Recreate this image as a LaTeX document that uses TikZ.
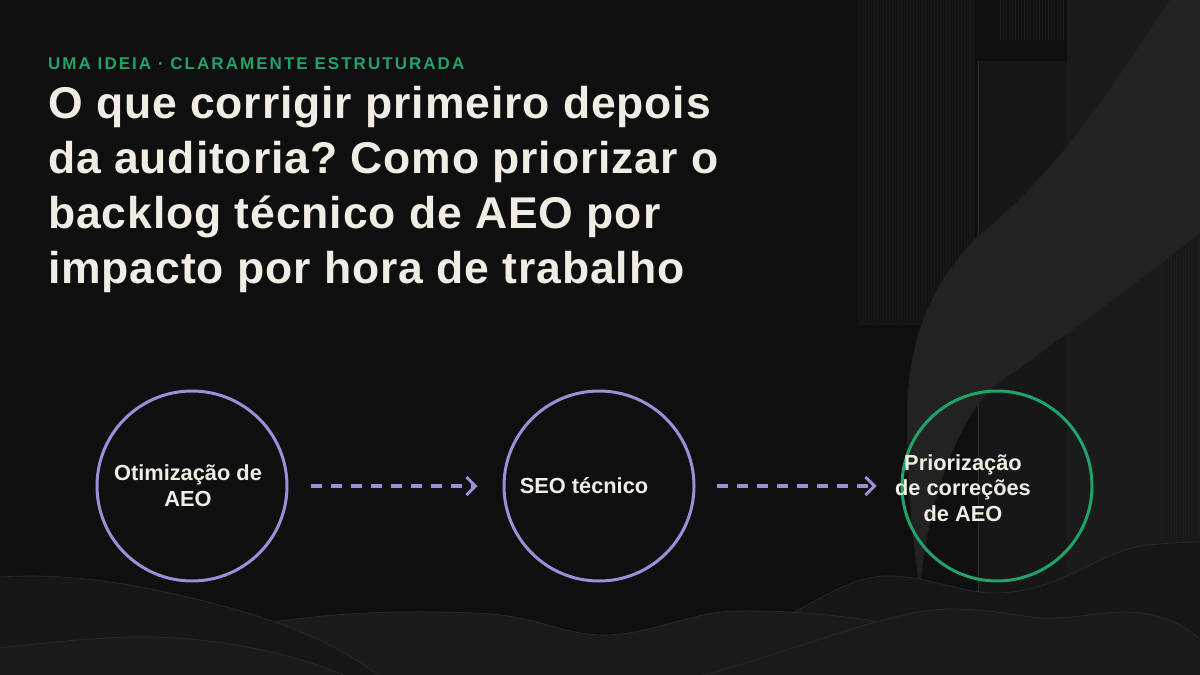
\documentclass[tikz,border=0pt]{standalone}
\usepackage{fontspec}
\setmainfont{Liberation Sans}
\newfontfamily\subfont[LetterSpace=12]{Liberation Sans}
\newfontfamily\titlefont[LetterSpace=2]{Liberation Sans}
\frenchspacing
\usetikzlibrary{arrows.meta}
\definecolor{bg}{HTML}{0F0F0F}
\definecolor{txt}{HTML}{F2EDE4}
\definecolor{lav}{HTML}{A08CD8}
\definecolor{grn}{HTML}{1FA36A}
\definecolor{arr}{HTML}{A08CD8}
\definecolor{gA}{HTML}{131313}
\definecolor{gB}{HTML}{171717}
\definecolor{gC}{HTML}{1B1B1B}
\definecolor{gD}{HTML}{222222}
\definecolor{gL}{HTML}{2A2A2A}
\tikzset{
  ring/.style={circle, draw=#1, line width=3pt, minimum size=190pt, inner sep=0pt},
  label text/.style={text=txt, font=\bfseries\fontsize{21.8}{25.7}\selectfont, align=center, inner sep=0pt},
  flow/.style={draw=arr, line width=3.2pt, dash pattern=on 11pt off 9pt, -{Straight Barb[length=9pt,width=18pt,line width=3pt]}},
  ridge/.style={draw=gL, line width=0.7pt},
}
\def\wA{(0,577) .. controls (80,572) and (150,588) .. (200,600) .. controls (280,620) and (330,640) .. (380,676)}
\def\wB{(240,628) .. controls (320,612) and (400,610) .. (474,613) .. controls (540,615) and (560,635) .. (604,635) .. controls (650,635) and (690,612) .. (735,611) .. controls (790,610) and (840,615) .. (900,625)}
\def\wC{(760,630) .. controls (820,600) and (850,576) .. (888,576) .. controls (930,576) and (960,593) .. (995,593) .. controls (1060,593) and (1100,550) .. (1148,545) .. controls (1170,543) and (1190,542) .. (1201,542)}
\def\wD{(700,676) .. controls (800,650) and (890,609) .. (949,609) .. controls (1000,609) and (1020,618) .. (1048,618) .. controls (1080,618) and (1100,612) .. (1125,612) .. controls (1160,612) and (1185,625) .. (1201,640)}
\def\wE{(0,648) .. controls (50,642) and (110,636) .. (153,637) .. controls (220,638) and (300,655) .. (345,676)}
\begin{document}
\begin{tikzpicture}[x=1pt,y=-1pt]
\useasboundingbox (0,0) rectangle (1200,675);
\fill[bg] (0,0) rectangle (1200,675);
% right decorative area
\fill[gA] (857,0) rectangle (975,325);
\foreach \i in {0,...,38} { \draw[gB, line width=0.5pt] (859+\i*3,0) -- (859+\i*3,325); }
\fill[gB] (977,61) rectangle (1067,675);
\draw[gL, line width=0.6pt] (978,61) -- (978,675);
\foreach \i in {0,...,21} { \draw[gC, line width=0.5pt] (1000+\i*3,0) -- (1000+\i*3,40); }
\fill[gC] (1067,0) rectangle (1200,675);
\foreach \i in {0,...,10} { \draw[gB, line width=0.5pt] (1166+\i*3,233) -- (1166+\i*3,675); }
\fill[gD] (1170,0) .. controls (1110,90) and (1060,170) .. (977,237)
  .. controls (930,285) and (907,340) .. (907,420) .. controls (907,480) and (912,540) .. (920,590)
  .. controls (925,520) and (950,430) .. (993,387)
  .. controls (1060,340) and (1140,280) .. (1200,233) -- (1200,0) -- cycle;
% bottom hills (back to front)
\fill[gB] \wC -- (1201,676) -- (760,676) -- cycle; \draw[ridge] \wC;
\fill[gC] \wB -- (900,676) -- (240,676) -- cycle; \draw[ridge] \wB;
\fill[gB] \wA -- (0,676) -- cycle; \draw[ridge] \wA;
\fill[gC] \wD -- (1201,676) -- cycle; \draw[ridge] \wD;
\fill[gC] \wE -- (0,676) -- cycle; \draw[ridge] \wE;
% texts
\node[anchor=base west, text=grn, font=\subfont\bfseries\fontsize{17}{17}\selectfont, inner sep=0pt] (sub) at (48,69) {UMA IDEIA · CLARAMENTE ESTRUTURADA};
\node[anchor=base west, text=txt, font=\titlefont\bfseries\fontsize{44.5}{55}\selectfont, align=left, inner sep=0pt] (title) at (48,283)
  {O que corrigir primeiro depois\\da auditoria? Como priorizar o\\backlog técnico de AEO por\\impacto por hora de trabalho};
% circles
\node[ring=lav] (c1) at (192,486) {};
\node[ring=lav] (c2) at (599,486) {};
\node[ring=grn] (c3) at (997,486) {};
\node[label text] (t1) at (188,486) {Otimização de\\AEO};
\node[label text] (t2) at (584,486) {SEO técnico};
\node[label text] (t3) at (963,488) {Priorização\\de correções\\de AEO};
\draw[flow, shorten <=22pt, shorten >=25pt] (c1.east) -- (c2.west);
\draw[flow, shorten <=21pt, shorten >=24pt] (c2.east) -- (c3.west);
\end{tikzpicture}
\end{document}
